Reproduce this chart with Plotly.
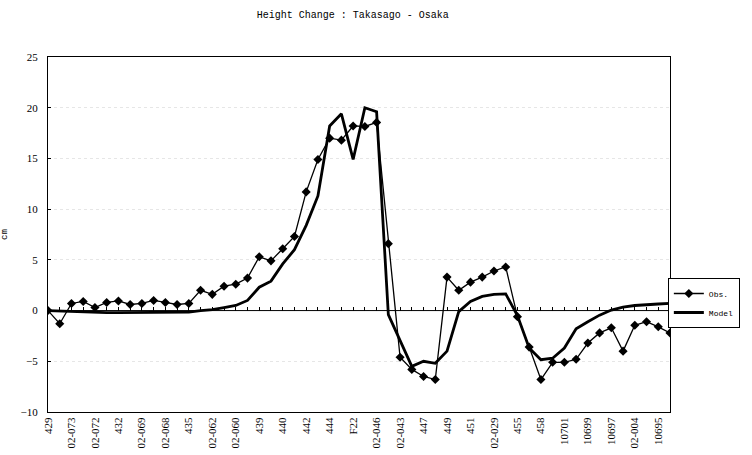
import plotly.graph_objects as go

tick_labels = ["429", "02-073", "02-072", "432", "02-069", "02-068", "435", "02-062", "02-060",
               "439", "440", "442", "444", "F22", "02-046", "02-043", "447", "449", "451",
               "02-029", "455", "458", "10701", "10699", "10697", "02-004", "10695"]

obs = [0, -1.3, 0.7, 0.9, 0.3, 0.8, 0.95, 0.6, 0.7, 1.0, 0.8, 0.6, 0.7, 2.0, 1.6, 2.4, 2.6, 3.2,
       5.3, 4.9, 6.1, 7.3, 11.7, 14.9, 17.0, 16.8, 18.2, 18.15, 18.55, 6.6, -4.6, -5.8, -6.5, -6.8,
       3.3, 2.0, 2.8, 3.3, 3.9, 4.3, -0.6, -3.6, -6.8, -5.1, -5.1, -4.8, -3.2, -2.2, -1.7, -4.0,
       -1.45, -1.1, -1.6, -2.2]

model = [0, -0.05, -0.1, -0.1, -0.15, -0.2, -0.2, -0.2, -0.2, -0.2, -0.2, -0.2, -0.15, 0.0, 0.1,
         0.3, 0.5, 1.0, 2.3, 2.9, 4.6, 6.0, 8.4, 11.3, 18.2, 19.4, 14.9, 20.0, 19.6, -0.4, -3.0,
         -5.5, -5.0, -5.2, -4.0, -0.1, 0.9, 1.4, 1.6, 1.65, -0.5, -3.7, -4.85, -4.7, -3.7, -1.8,
         -1.1, -0.45, 0.05, 0.35, 0.5, 0.6, 0.65, 0.7]

x = list(range(len(obs)))
tickvals = list(range(0, 2 * len(tick_labels), 2))

fig = go.Figure()
fig.add_trace(go.Scatter(x=x, y=obs, name="Obs.", mode="lines+markers",
                         line=dict(color="black", width=1.3),
                         marker=dict(symbol="diamond", size=7, color="black")))
fig.add_trace(go.Scatter(x=x, y=model, name="Model", mode="lines",
                         line=dict(color="black", width=2.8)))
# axis line with ticks crossing at y = 0
fig.add_trace(go.Scatter(x=[0, 53], y=[0, 0], xaxis="x2", mode="lines",
                         line=dict(color="black", width=1), showlegend=False, hoverinfo="skip"))

fig.update_layout(
    width=752, height=455,
    margin=dict(l=48, r=72, t=57, b=43),
    paper_bgcolor="white", plot_bgcolor="white",
    title=dict(text="Height Change : Takasago - Osaka", x=0.49, xref="paper",
               y=1 - 14 / 455, yanchor="middle",
               font=dict(family="Liberation Mono", size=10, color="black")),
    xaxis=dict(range=[0, 53], tickvals=tickvals, ticktext=tick_labels, tickangle=-90,
               showline=True, linecolor="black", linewidth=1, mirror=True,
               ticks="", showgrid=False, zeroline=False, automargin=False,
               tickfont=dict(family="Liberation Serif", size=11, color="black")),
    xaxis2=dict(range=[0, 53], overlaying="x", anchor="free", position=10 / 35,
                tickvals=x, ticks="inside", ticklen=4, tickcolor="black", automargin=False,
                showticklabels=False, showline=False, showgrid=False, zeroline=False),
    yaxis=dict(range=[-10, 25], dtick=5, showline=True, linecolor="black", linewidth=1,
               mirror=True, ticks="inside", ticklen=3, tickcolor="black",
               ticklabelstandoff=7, automargin=False,
               showgrid=True, gridcolor="#e6e6e6", griddash="dot", gridwidth=1,
               zeroline=False,
               title=dict(text="cm", standoff=12,
                          font=dict(family="Liberation Mono", size=9, color="black")),
               tickfont=dict(family="Liberation Serif", size=11, color="black")),
    legend=dict(x=1.1123, y=0.307, xanchor="right", yanchor="middle",
                bordercolor="black", borderwidth=1, bgcolor="white",
                font=dict(family="Liberation Mono", size=8, color="black"),
                tracegroupgap=0, itemwidth=30),
    showlegend=True,
)

fig.write_html("out.html", config={"displayModeBar": False},
               post_script="document.body.style.margin='0';")
